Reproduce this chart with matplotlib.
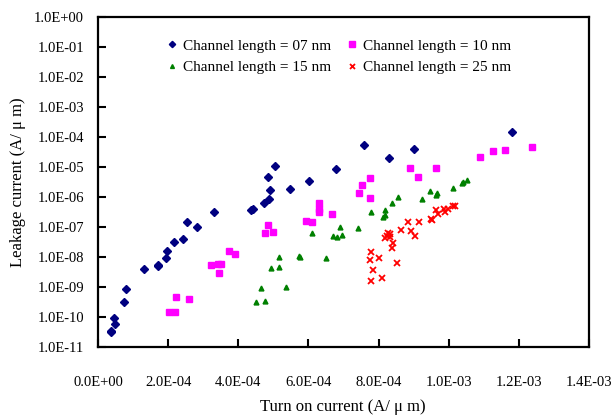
import numpy as np
import matplotlib
matplotlib.use("Agg")
import matplotlib.pyplot as plt

plt.rcParams['font.family'] = ['Liberation Serif', 'DejaVu Serif']

# turn-on current in units of 1E-4 A/um, leakage as log10(A/um)
ion_07 = [0.371, 0.371, 0.456, 0.485, 0.741, 0.807, 1.303, 1.711, 1.711, 1.930,
          1.976, 2.159, 2.424, 2.529, 2.814, 3.299, 4.411, 4.363, 4.733, 4.867,
          4.904, 4.856, 5.047, 5.483, 6.025, 6.778, 7.593, 8.298, 9.011, 11.805]
ioff_07 = [-10.50, -10.47, -10.02, -10.22, -9.50, -9.07, -8.39, -8.26, -8.30, -8.02,
           -7.80, -7.49, -7.40, -6.84, -6.99, -6.49, -6.41, -6.43, -6.21, -6.07,
           -5.76, -5.34, -4.98, -5.73, -5.47, -5.08, -4.27, -4.71, -4.39, -3.82]

ion_10 = [2.025, 2.187, 2.224, 2.595, 3.214, 3.430, 3.507, 3.442, 3.735, 3.915,
          4.839, 4.753, 4.990, 5.940, 6.102, 6.293, 6.310, 6.302, 6.664, 7.756,
          7.536, 7.434, 7.747, 8.905, 9.125, 9.638, 10.893, 11.263, 11.614, 12.384]
ioff_10 = [-9.83, -9.83, -9.34, -9.41, -8.26, -8.22, -8.22, -8.54, -7.81, -7.90,
           -6.92, -7.21, -7.18, -6.81, -6.82, -6.19, -6.40, -6.50, -6.56, -5.37,
           -5.61, -5.87, -6.04, -5.02, -5.33, -5.02, -4.68, -4.48, -4.44, -4.33]

ion_15 = [4.497, 4.770, 4.656, 5.369, 4.933, 5.161, 5.153, 5.723, 5.760, 6.493,
          6.111, 6.709, 6.806, 6.958, 6.909, 7.414, 7.776, 8.118, 8.175, 8.192,
          8.375, 8.554, 9.239, 9.467, 9.629, 9.666, 10.114, 10.388, 10.416, 10.530]
ioff_15 = [-9.51, -9.46, -9.03, -8.99, -8.36, -8.33, -7.99, -7.97, -7.99, -8.03,
           -7.19, -7.29, -7.32, -7.27, -7.01, -7.02, -6.49, -6.68, -6.59, -6.44,
           -6.20, -6.00, -6.08, -5.79, -5.94, -5.88, -5.70, -5.53, -5.51, -5.44]

ion_25 = [7.793, 8.107, 7.833, 8.526, 7.747, 8.013, 7.784, 8.375, 8.412, 8.175,
          8.278, 8.335, 8.249, 8.326, 8.640, 8.934, 9.048, 8.840, 9.162, 9.504,
          9.515, 9.629, 9.703, 9.866, 9.903, 9.989, 10.131, 10.180]
ioff_25 = [-8.81, -8.69, -8.44, -8.19, -8.11, -8.02, -7.83, -7.69, -7.54, -7.36,
           -7.21, -7.24, -7.30, -7.32, -7.11, -7.14, -7.29, -6.82, -6.82, -6.72,
           -6.77, -6.44, -6.58, -6.39, -6.49, -6.41, -6.31, -6.30]

x_ticks = [0.0, 2e-4, 4e-4, 6e-4, 8e-4, 1e-3, 1.2e-3, 1.4e-3]
x_labels = ['0.0E+00', '2.0E-04', '4.0E-04', '6.0E-04', '8.0E-04',
            '1.0E-03', '1.2E-03', '1.4E-03']
y_exp = list(range(0, -12, -1))
y_labels = ['1.0E+00', '1.0E-01', '1.0E-02', '1.0E-03', '1.0E-04', '1.0E-05',
            '1.0E-06', '1.0E-07', '1.0E-08', '1.0E-09', '1.0E-10', '1.0E-11']

fig = plt.figure(figsize=(6.14, 4.16), dpi=100)
ax = fig.add_axes([98 / 614, 69 / 416, 491 / 614, 330 / 416])

def pts(xs, ls):
    return np.array(xs) * 1e-4, 10.0 ** np.array(ls)

x, y = pts(ion_07, ioff_07)
h07, = ax.plot(x, y, ls='none', marker='D', ms=4, color='#000080',
               label='Channel length = 07 nm')
x, y = pts(ion_10, ioff_10)
h10, = ax.plot(x, y, ls='none', marker='s', ms=5, color='#FF00FF',
               label='Channel length = 10 nm')
x, y = pts(ion_15, ioff_15)
h15, = ax.plot(x, y, ls='none', marker='^', ms=3.5, color='#008000',
               label='Channel length = 15 nm')
x, y = pts(ion_25, ioff_25)
h25, = ax.plot(x, y, ls='none', marker='x', ms=4.5, mew=1.3, color='#FF0000',
               label='Channel length = 25 nm')

ax.set_yscale('log')
ax.set_xlim(0, 1.4e-3)
ax.set_ylim(1e-11, 1)
ax.set_xticks(x_ticks)
ax.set_xticklabels(x_labels)
ax.set_yticks([10.0 ** e for e in y_exp])
ax.set_yticklabels(y_labels)
ax.yaxis.set_minor_locator(matplotlib.ticker.NullLocator())
ax.tick_params(axis='both', direction='in', length=6, width=1.5,
               labelsize=10.5, colors='black')
ax.tick_params(axis='x', pad=21)
ax.tick_params(axis='y', pad=10)
for s in ax.spines.values():
    s.set_linewidth(1.6)

# matplotlib fills legend columns first, so order handles to get row-wise layout
handles = [h07, h15, h10, h25]
ax.legend(handles=handles, labels=[h.get_label() for h in handles], ncol=2,
          loc='upper left', bbox_to_anchor=(0.11, 0.975), frameon=False,
          fontsize=11, handletextpad=0.3, columnspacing=1.0, labelspacing=0.5,
          markerscale=0.8, handlelength=0.8, borderpad=0.4)

fig.text(343 / 614, 1 - 407 / 416, 'Turn on current (A/ μ m)', ha='center',
         va='center', fontsize=12)
fig.text(18 / 614, 1 - 182 / 416, 'Leakage current (A/ μ m)', ha='center',
         va='center', rotation=90, fontsize=12)

fig.savefig('out.png', dpi=100)
